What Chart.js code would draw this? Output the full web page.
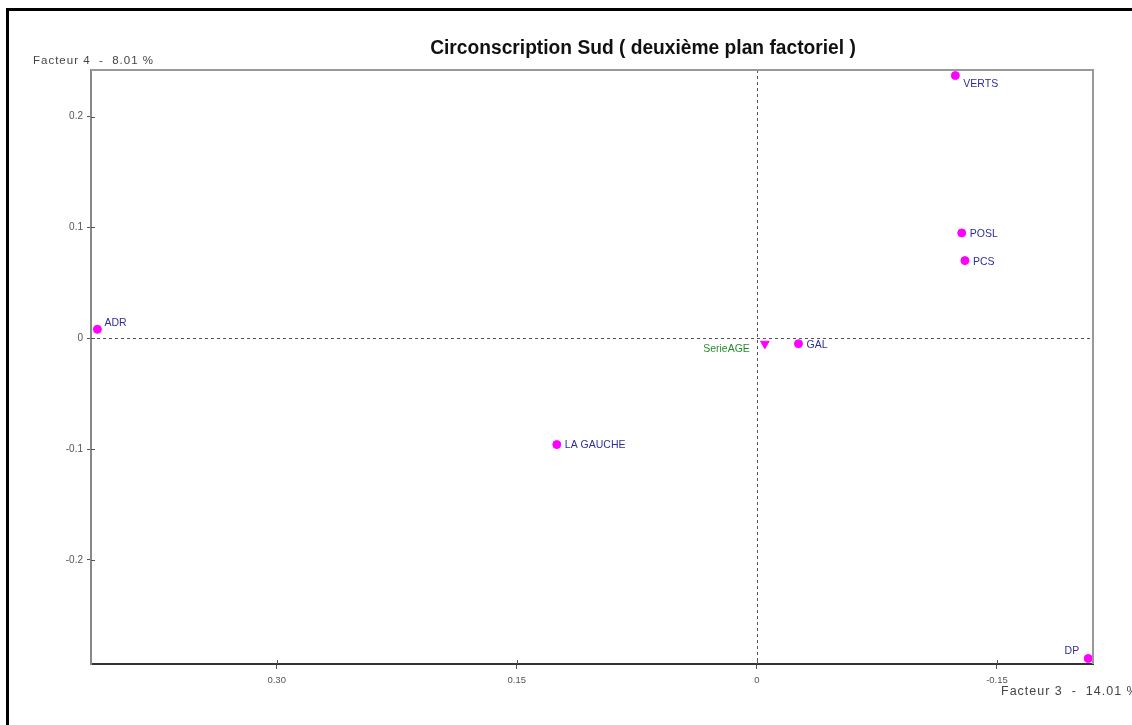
<!DOCTYPE html>
<html>
<head>
<meta charset="utf-8">
<script src="https://cdn.jsdelivr.net/npm/chart.js@4.4.1/dist/chart.umd.min.js"></script>
<style>
  html, body { margin: 0; padding: 0; background: #fff; }
  #wrap { position: relative; width: 1132px; height: 725px; }
</style>
</head>
<body>
<div id="wrap"><canvas id="chart"></canvas></div>
<script>
// Active points: party names and their coordinates on factors 3 and 4
const partyNames = ['ADR', 'VERTS', 'POSL', 'PCS', 'GAL', 'LA GAUCHE', 'DP'];
const factor3 = [0.412, -0.124, -0.128, -0.130, -0.026, 0.125, -0.207];
const factor4 = [0.008, 0.237, 0.095, 0.070, -0.005, -0.096, -0.289];

// Supplementary variable
const supNames = ['SerieAGE'];
const supFactor3 = [-0.005];
const supFactor4 = [-0.005];

// Axis ticks
const xTicks = [0.30, 0.15, 0, -0.15];
const xTickLabels = ['0.30', '0.15', '0', '-0.15'];
const yTicks = [0.2, 0.1, 0, -0.1, -0.2];
const yTickLabels = ['0.2', '0.1', '0', '-0.1', '-0.2'];

// Where each label sits relative to its point
const partyLabelSide = ['ne', 'se', 'e', 'e', 'e', 'e', 'nw'];
const supLabelSide = ['w'];

const toPoints = (xs, ys) => xs.map((x, i) => ({ x: x, y: ys[i] }));

const FONT = '"Liberation Sans", Arial, sans-serif';

const decorPlugin = {
  id: 'decor',
  beforeDraw(chart) {
    const ctx = chart.ctx;
    ctx.save();
    ctx.fillStyle = '#ffffff';
    ctx.fillRect(0, 0, chart.width, chart.height);
    ctx.restore();
  },
  beforeDatasetsDraw(chart) {
    const { ctx, chartArea: a, scales } = chart;
    const x0 = Math.round(scales.x.getPixelForValue(0)) + 0.5;
    const y0 = Math.round(scales.y.getPixelForValue(0)) + 0.5;
    ctx.save();
    ctx.strokeStyle = '#555';
    ctx.lineWidth = 1;
    ctx.setLineDash([3, 3]);
    ctx.beginPath();
    ctx.moveTo(a.left, y0); ctx.lineTo(a.right, y0);
    ctx.moveTo(x0, a.top); ctx.lineTo(x0, a.bottom);
    ctx.stroke();
    ctx.restore();
  },
  afterDraw(chart) {
    const { ctx, chartArea: a, scales } = chart;
    ctx.save();
    // plot frame: top and right sides
    ctx.strokeStyle = '#999';
    ctx.lineWidth = 2;
    ctx.beginPath();
    ctx.moveTo(a.left, a.top); ctx.lineTo(a.right, a.top); ctx.lineTo(a.right, a.bottom);
    ctx.stroke();

    // inner half of the tick marks, so they cross the axes
    ctx.strokeStyle = '#555';
    ctx.lineWidth = 1;
    ctx.beginPath();
    xTicks.forEach(v => {
      const px = Math.round(scales.x.getPixelForValue(v)) + 0.5;
      ctx.moveTo(px, a.bottom); ctx.lineTo(px, a.bottom - 4);
    });
    yTicks.forEach(v => {
      const py = Math.round(scales.y.getPixelForValue(v)) + 0.5;
      ctx.moveTo(a.left, py); ctx.lineTo(a.left + 4, py);
    });
    ctx.stroke();

    // point labels
    const drawLabels = (names, xs, ys, sides, color) => {
      ctx.fillStyle = color;
      ctx.font = '10.5px ' + FONT;
      names.forEach((name, i) => {
        const px = scales.x.getPixelForValue(xs[i]);
        const py = scales.y.getPixelForValue(ys[i]);
        let tx = px, ty = py, align = 'left';
        switch (sides[i]) {
          case 'e': tx = px + 8; ty = py + 1; break;
          case 'ne': tx = px + 7; ty = py - 6; break;
          case 'se': tx = px + 8; ty = py + 9; break;
          case 'nw': tx = px - 9; ty = py - 7; align = 'right'; break;
          case 'w': tx = px - 15; ty = py + 5; align = 'right'; break;
        }
        ctx.textAlign = align;
        ctx.textBaseline = 'middle';
        ctx.fillText(name, tx, ty);
      });
    };
    drawLabels(partyNames, factor3, factor4, partyLabelSide, '#2e2e9a');
    drawLabels(supNames, supFactor3, supFactor4, supLabelSide, '#2a8a2a');

    // axis names
    ctx.fillStyle = '#444';
    ctx.textAlign = 'left';
    ctx.textBaseline = 'middle';
    ctx.letterSpacing = '1px';
    ctx.font = '11.5px ' + FONT;
    ctx.fillText('Facteur 4  -  8.01 %', 33, 61);
    ctx.font = '12.5px ' + FONT;
    ctx.fillText('Facteur 3  -  14.01 %', 1001, 692);
    ctx.letterSpacing = '0px';

    // title
    ctx.fillStyle = '#111';
    ctx.font = 'bold 20px ' + FONT;
    ctx.textAlign = 'center';
    ctx.translate(643, 48);
    ctx.scale(0.96, 1);
    ctx.fillText('Circonscription Sud ( deuxième plan factoriel )', 0, 0);
    ctx.setTransform(1, 0, 0, 1, 0, 0);

    // outer frame
    ctx.fillStyle = '#000';
    ctx.fillRect(6, 8, chart.width - 6, 3);
    ctx.fillRect(6, 8, 3, chart.height - 8);
    ctx.restore();
  }
};

new Chart(document.getElementById('chart'), {
  type: 'scatter',
  data: {
    datasets: [
      {
        label: 'Partis',
        data: toPoints(factor3, factor4),
        backgroundColor: '#ff00ff',
        borderColor: '#ff00ff',
        pointRadius: 4,
        pointHoverRadius: 4,
        pointStyle: 'circle'
      },
      {
        label: 'Variable supplémentaire',
        data: toPoints(supFactor3, supFactor4),
        backgroundColor: '#ff00ff',
        borderColor: '#ff00ff',
        pointRadius: 5,
        pointHoverRadius: 5,
        pointStyle: 'triangle',
        rotation: 180
      }
    ]
  },
  options: {
    responsive: true,
    maintainAspectRatio: false,
    animation: false,
    devicePixelRatio: 1,
    layout: { padding: { left: 0, top: 70, right: 39, bottom: 0 } },
    plugins: { legend: { display: false }, title: { display: false }, tooltip: { enabled: false } },
    scales: {
      x: {
        type: 'linear',
        reverse: true,
        min: -0.21,
        max: 0.416,
        afterFit(scale) { scale.height = 61; },
        afterBuildTicks(scale) { scale.ticks = xTicks.map(v => ({ value: v })); },
        border: { display: true, color: '#333', width: 2 },
        grid: { display: true, drawOnChartArea: false, drawTicks: true, tickLength: 5, color: '#555' },
        ticks: {
          color: '#555',
          font: { family: FONT, size: 9.5 },
          padding: 6,
          maxRotation: 0,
          callback: (v) => { const i = xTicks.findIndex(t => Math.abs(t - v) < 1e-9); return i >= 0 ? xTickLabels[i] : ''; }
        }
      },
      y: {
        type: 'linear',
        min: -0.294,
        max: 0.242,
        afterFit(scale) { scale.width = 91; },
        afterBuildTicks(scale) { scale.ticks = yTicks.map(v => ({ value: v })); },
        border: { display: true, color: '#888', width: 2 },
        grid: { display: true, drawOnChartArea: false, drawTicks: true, tickLength: 4, color: '#555' },
        ticks: {
          color: '#555',
          font: { family: FONT, size: 10 },
          padding: 4,
          callback: (v) => { const i = yTicks.findIndex(t => Math.abs(t - v) < 1e-9); return i >= 0 ? yTickLabels[i] : ''; }
        }
      }
    }
  },
  plugins: [decorPlugin]
});
</script>
</body>
</html>
